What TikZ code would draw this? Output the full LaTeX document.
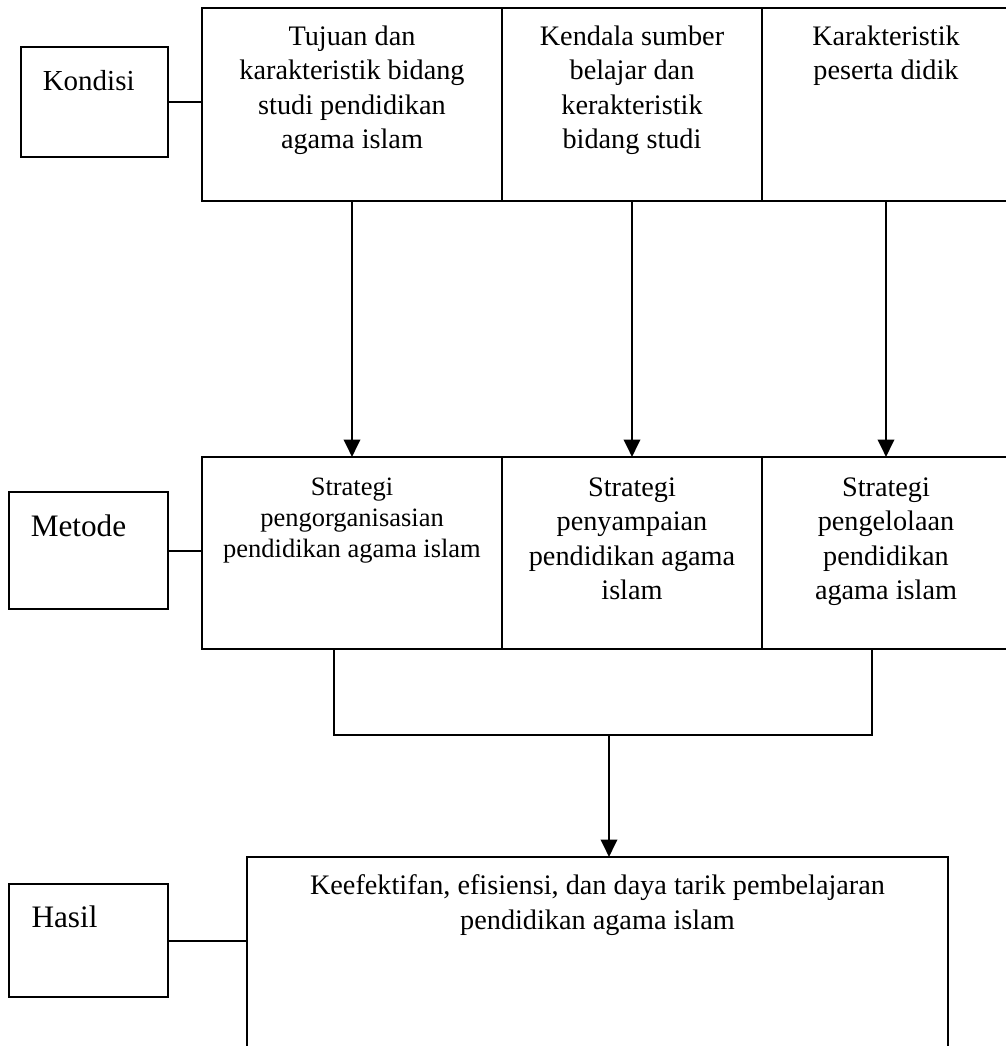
\documentclass[tikz,border=0pt]{standalone}
\usepackage{fontspec}
\setmainfont{Liberation Serif}
\usetikzlibrary{positioning,arrows.meta}
\newcommand{\px}{0.4pt}
\newcommand{\bodyfont}{\fontsize{11.3}{13.8}\selectfont}
\tikzset{
	cell/.style 2 args={draw, line width=0.8pt, anchor=north west, inner sep=0, outer sep=0,
		minimum width=#1*\px, minimum height=#2*\px},
	celltext/.style={align=center, inner sep=0, font=\bodyfont},
	tagtext/.style={inner sep=0, font=\fontsize{12.5}{14}\selectfont},
	link/.style={line width=0.8pt},
	flow/.style={line width=1.1pt, -{Triangle[length=7pt,width=6.5pt]}}
}

\begin{document}
\begin{tikzpicture}[x=\px,y=-\px]
	\useasboundingbox (0,0) rectangle (1006,1046);
	\clip (0,0) rectangle (1006,1046);

	\node[cell={147}{110}] (kondisi) at (21,47) {};
	\node[cell={159}{117}] (metode) at (9,492) {};
	\node[cell={159}{113}] (hasil) at (9,884) {};
	\node[tagtext, font=\fontsize{11.6}{13}\selectfont, below right=9pt and 8.5pt of kondisi.north west] (kondisiText) {Kondisi};
	\node[tagtext, below right=9pt and 8.5pt of metode.north west] (metodeText) {Metode};
	\node[tagtext, below right=8.5pt and 8.8pt of hasil.north west] (hasilText) {Hasil};

	\node[cell={300}{193}] (tujuan) at (202,8) {};
	\node[cell={260}{193}] (kendala) at (tujuan.north east) {};
	\node[cell={248}{193}] (peserta) at (kendala.north east) {};
	\node[celltext, below=6.8pt of tujuan.north] (tujuanText) {Tujuan dan\\karakteristik bidang\\studi pendidikan\\agama islam};
	\node[celltext, below=6.8pt of kendala.north] (kendalaText) {Kendala sumber\\belajar dan\\kerakteristik\\bidang studi};
	\node[celltext, below=6.8pt of peserta.north] (pesertaText) {Karakteristik\\peserta didik};

	\node[cell={300}{192}] (organisasi) at (202,457) {};
	\node[cell={260}{192}] (penyampaian) at (organisasi.north east) {};
	\node[cell={248}{192}] (pengelolaan) at (penyampaian.north east) {};
	\node[celltext, font=\fontsize{10.6}{12.4}\selectfont, below=8pt of organisasi.north] (organisasiText) {Strategi\\pengorganisasian\\pendidikan agama islam};
	\node[celltext, below=8pt of penyampaian.north] (penyampaianText) {Strategi\\penyampaian\\pendidikan agama\\islam};
	\node[celltext, below=8pt of pengelolaan.north] (pengelolaanText) {Strategi\\pengelolaan\\pendidikan\\agama islam};

	\node[cell={701}{250}] (hasilbox) at (247,857) {};
	\node[celltext, font=\fontsize{11.3}{14}\selectfont, below=7pt of hasilbox.north] (hasilboxText) {Keefektifan, efisiensi, dan daya tarik pembelajaran\\pendidikan agama islam};

	\draw[link] (kondisi.east) -- (kondisi.east -| tujuan.west);
	\draw[link] (metode.east) -- (metode.east -| organisasi.west);
	\draw[link] (hasil.east) -- (hasil.east -| hasilbox.west);

	\foreach \src/\dst in {tujuan/organisasi, kendala/penyampaian, peserta/pengelolaan}
		\draw[flow] (\src) -- (\dst);

	\coordinate (joinL) at (334,735);
	\coordinate (joinM) at (609,735);
	\coordinate (joinR) at (872,735);
	\draw[link] (organisasi.south -| joinL) -- (joinL) -- (joinR) -- (pengelolaan.south -| joinR);
	\draw[flow] (joinM) -- (joinM |- hasilbox.north);
\end{tikzpicture}
\end{document}
